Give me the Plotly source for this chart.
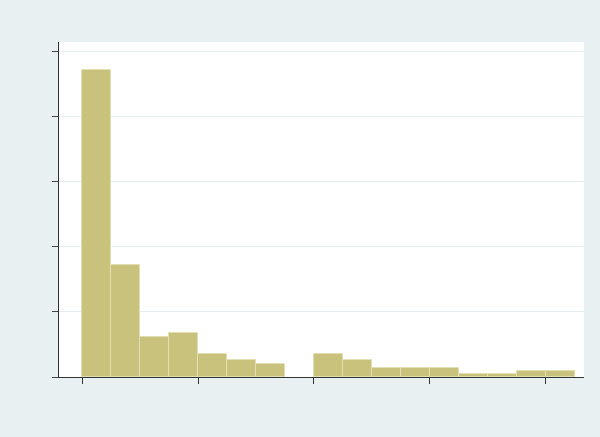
import plotly.graph_objects as go

# Histogram bins (left edges) and bar heights (density)
bin_left = [0.0, 0.25, 0.5, 0.75, 1.0, 1.25, 1.5, 1.75, 2.0, 2.25, 2.5, 2.75, 3.0, 3.25, 3.5, 3.75, 4.0]
density = [4.71, 1.72, 0.62, 0.675, 0.36, 0.255, 0.20, 0.0, 0.36, 0.255, 0.14, 0.14, 0.14, 0.046, 0.046, 0.097, 0.097]
bin_width = 0.25

x_ticks = [0, 1, 2, 3, 4]
y_ticks = [0, 1, 2, 3, 4, 5]

# no outline on empty bins
outline_w = [1 if d > 0 else 0 for d in density]

fig = go.Figure()
fig.add_trace(go.Bar(
    x=bin_left, y=density, offset=0, width=bin_width,
    marker=dict(color="#c8c27c", line=dict(color="#e2dfb4", width=outline_w)),
    hoverinfo="skip",
))

fig.update_layout(
    width=600, height=437,
    paper_bgcolor="#e9f0f2",
    plot_bgcolor="#ffffff",
    margin=dict(l=59, r=16, t=42, b=60),
    showlegend=False,
    bargap=0,
)
fig.update_xaxes(
    range=[-0.2, 4.33], tickvals=x_ticks, showticklabels=False,
    ticks="outside", ticklen=6, tickcolor="#333333", tickwidth=1,
    showline=True, linecolor="#333333", linewidth=1.3,
    showgrid=False, zeroline=False,
)
fig.update_yaxes(
    range=[0, 5.14], tickvals=y_ticks, showticklabels=False,
    ticks="outside", ticklen=6, tickcolor="#444444", tickwidth=1.3,
    showline=True, linecolor="#333333", linewidth=1.3,
    showgrid=True, gridcolor="#e6eef0", gridwidth=1, zeroline=False,
)

fig.write_html(
    "out.html",
    config={"displayModeBar": False},
    post_script="document.body.style.margin='0';document.body.style.padding='0';document.body.style.overflow='hidden';",
)
